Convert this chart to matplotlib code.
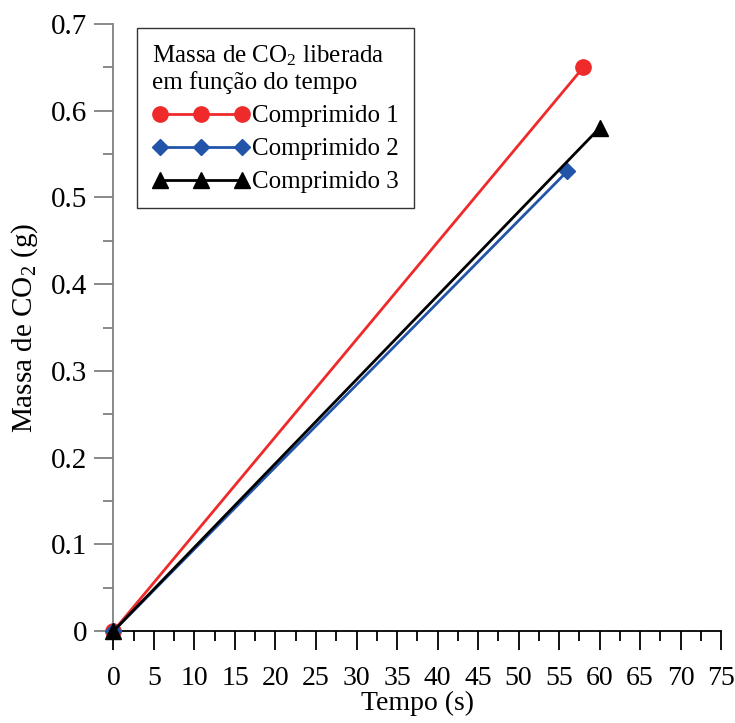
import matplotlib
matplotlib.use("Agg")
import matplotlib.pyplot as plt
from matplotlib.ticker import MultipleLocator, FuncFormatter

plt.rcParams['font.family'] = ['Liberation Serif', 'DejaVu Serif']
plt.rcParams['mathtext.fontset'] = 'custom'
plt.rcParams['mathtext.rm'] = 'Liberation Serif'
plt.rcParams['mathtext.it'] = 'Liberation Serif:italic'

# Data
series_names = ["Comprimido 1", "Comprimido 2", "Comprimido 3"]
tempo_1 = [0, 58]
massa_1 = [0, 0.65]
tempo_2 = [0, 56]
massa_2 = [0, 0.53]
tempo_3 = [0, 60]
massa_3 = [0, 0.58]
x_ticks = list(range(0, 80, 5))
y_ticks = [0, 0.1, 0.2, 0.3, 0.4, 0.5, 0.6, 0.7]

fig = plt.figure(figsize=(7.35, 7.23), dpi=100)
ax = fig.add_axes([0.1544, 0.1272, 0.8266, 0.8396])

ax.plot(tempo_1, massa_1, color='#ee2a2a', lw=2.0, marker='o', ms=11,
        label=series_names[0], clip_on=False, zorder=3)
ax.plot(tempo_2, massa_2, color='#2255aa', lw=2.0, marker='D', ms=8.5,
        label=series_names[1], clip_on=False, zorder=3)
ax.plot(tempo_3, massa_3, color='black', lw=2.0, marker='^', ms=11,
        label=series_names[2], clip_on=False, zorder=3)

ax.set_xlim(0, 75)
ax.set_ylim(0, 0.7)
ax.set_xticks(x_ticks)
ax.set_yticks(y_ticks)
ax.xaxis.set_minor_locator(MultipleLocator(2.5))
ax.yaxis.set_minor_locator(MultipleLocator(0.05))
ax.yaxis.set_major_formatter(FuncFormatter(lambda v, p: '0' if abs(v) < 1e-9 else f'{v:.1f}'))

for s in ['top', 'right']:
    ax.spines[s].set_visible(False)
ax.spines['left'].set_color('#808080')
ax.spines['left'].set_linewidth(1.3)
ax.spines['bottom'].set_color('black')
ax.spines['bottom'].set_linewidth(1.3)

ax.tick_params(axis='y', which='major', direction='out', length=14, width=1.3,
               color='#808080', labelsize=21, pad=5)
ax.tick_params(axis='y', which='minor', direction='out', length=7, width=1.3,
               color='#808080')
ax.tick_params(axis='x', which='major', direction='out', length=14, width=1.3,
               color='black', labelsize=20, pad=11)
ax.tick_params(axis='x', which='minor', direction='out', length=7, width=1.3,
               color='black')

ax.set_xlabel('Tempo (s)', fontsize=20, labelpad=0)
ax.set_ylabel('Massa de CO$_2$ (g)', fontsize=21, labelpad=8)

leg = ax.legend(title='Massa de CO$_2$ liberada\nem função do tempo',
                loc='upper left', bbox_to_anchor=(0.039, 0.993),
                borderaxespad=0, numpoints=3, fontsize=18, title_fontsize=18,
                frameon=True, fancybox=False, edgecolor='black',
                handlelength=3.9, handletextpad=0.1, labelspacing=0.42,
                borderpad=0.6)
leg.get_frame().set_linewidth(1.0)
leg._legend_box.align = 'left'

fig.savefig('out.png', dpi=100)
